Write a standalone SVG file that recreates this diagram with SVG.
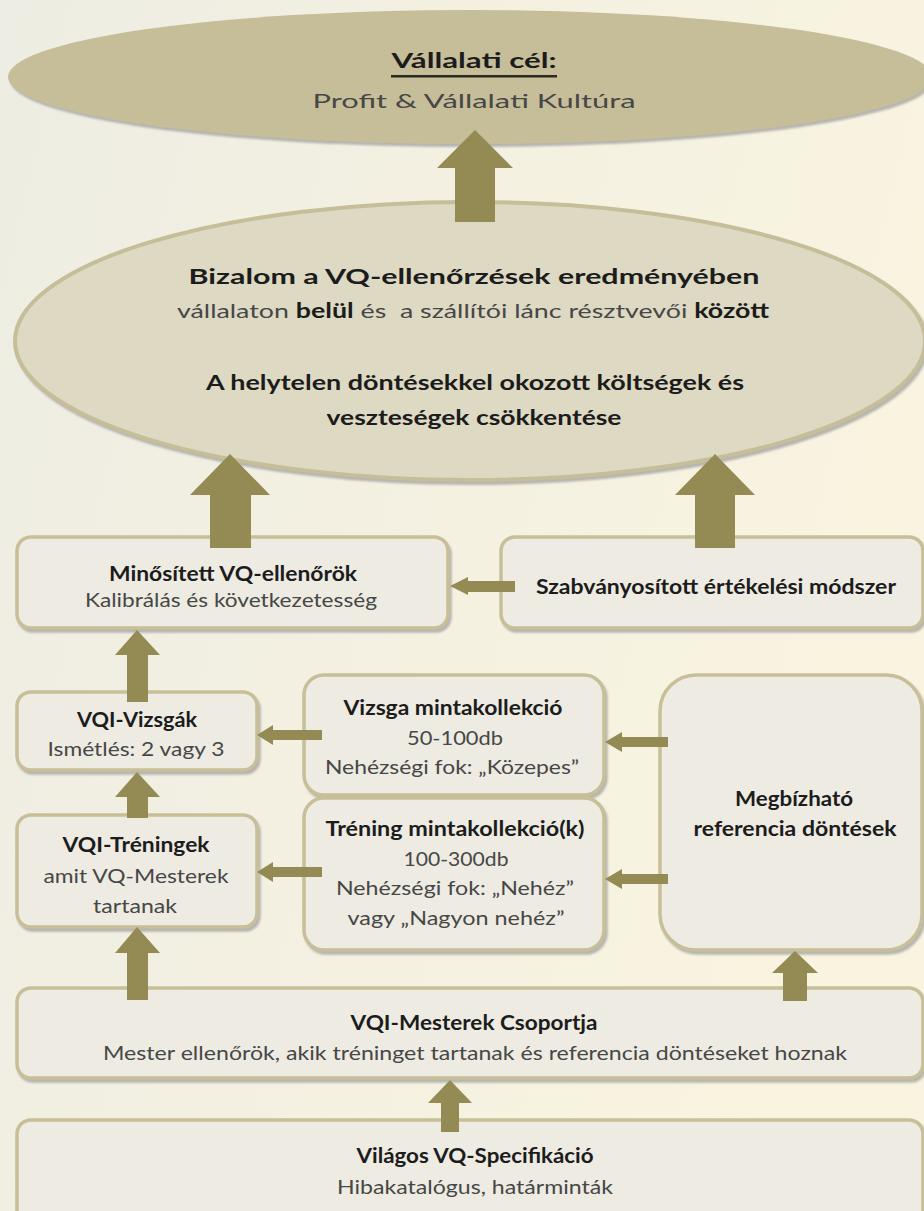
<svg xmlns="http://www.w3.org/2000/svg" width="924" height="1211" viewBox="0 0 924 1211">
<defs>
<linearGradient id="bg" x1="0" y1="0" x2="1" y2="0.3">
<stop offset="0" stop-color="#eeede3"/>
<stop offset="1" stop-color="#f9f4e0"/>
</linearGradient>
<filter id="sh" x="-5%" y="-5%" width="110%" height="115%">
<feDropShadow dx="2" dy="3" stdDeviation="1" flood-color="#9a9a9a" flood-opacity="0.7"/>
</filter>
<style>
.box{fill:#edebe2;stroke:#c8bf98;stroke-width:3.5;filter:url(#sh)}
.arr{fill:#948b54}
text{font-family:Lato,"Open Sans","Liberation Sans",sans-serif;text-anchor:middle}
.h{font-weight:bold;fill:#1c1c1c;font-size:21px}
.s{fill:#474747;font-size:20px}
.b{font-weight:bold;fill:#1c1c1c}
</style>
</defs>
<rect width="924" height="1211" fill="url(#bg)"/>

<g id="goal">
<ellipse cx="470" cy="77" rx="462" ry="67" fill="#c6bd99" filter="url(#sh)"/>
<text class="h" x="474" y="68" font-size="27" textLength="165" lengthAdjust="spacingAndGlyphs">Vállalati cél:</text>
<rect x="391" y="75" width="166" height="2.5" fill="#2a2a20"/>
<text class="s" x="474" y="108" font-size="26" textLength="323" lengthAdjust="spacingAndGlyphs">Profit &amp; Vállalati Kultúra</text>
</g>

<g id="trust">
<ellipse cx="470" cy="341" rx="455" ry="139" fill="#ddd9c3" stroke="#c6bd99" stroke-width="4" filter="url(#sh)"/>
<text class="h" x="474" y="284" font-size="25" textLength="571" lengthAdjust="spacingAndGlyphs">Bizalom a VQ-ellenőrzések eredményében</text>
<text class="s" x="473" y="318" font-size="22" fill="#333" textLength="592" lengthAdjust="spacingAndGlyphs" xml:space="preserve">vállalaton <tspan class="b">belül</tspan> és  a szállítói lánc résztvevői <tspan class="b">között</tspan></text>
<text class="h" x="475" y="390" font-size="22" textLength="538" lengthAdjust="spacingAndGlyphs">A helytelen döntésekkel okozott költségek és</text>
<text class="h" x="474" y="425" font-size="22" textLength="295" lengthAdjust="spacingAndGlyphs">veszteségek csökkentése</text>
</g>

<g id="qualified">
<rect class="box" x="17" y="537" width="431" height="91" rx="14"/>
<text class="h" x="233" y="581" textLength="248" lengthAdjust="spacingAndGlyphs">Minősített VQ-ellenőrök</text>
<text class="s" x="231" y="607" textLength="292" lengthAdjust="spacingAndGlyphs">Kalibrálás és következetesség</text>
</g>

<g id="method">
<rect class="box" x="501" y="537" width="422" height="91" rx="14"/>
<text class="h" x="716" y="594" font-size="20" textLength="360" lengthAdjust="spacingAndGlyphs">Szabványosított értékelési módszer</text>
</g>

<g id="exams">
<rect class="box" x="17" y="692" width="240" height="78" rx="14"/>
<text class="h" x="137" y="727" textLength="120" lengthAdjust="spacingAndGlyphs">VQI-Vizsgák</text>
<text class="s" x="136" y="756" textLength="177" lengthAdjust="spacingAndGlyphs">Ismétlés: 2 vagy 3</text>
</g>

<g id="trainings">
<rect class="box" x="17" y="815" width="240" height="112" rx="14"/>
<text class="h" x="136" y="852" textLength="147" lengthAdjust="spacingAndGlyphs">VQI-Tréningek</text>
<text class="s" x="136" y="883" textLength="185" lengthAdjust="spacingAndGlyphs">amit VQ-Mesterek</text>
<text class="s" x="135" y="913" textLength="84" lengthAdjust="spacingAndGlyphs">tartanak</text>
</g>

<g id="exam-samples">
<rect class="box" x="304" y="675" width="300" height="120" rx="20"/>
<text class="h" x="453" y="715" textLength="219" lengthAdjust="spacingAndGlyphs">Vizsga mintakollekció</text>
<text class="s" x="455" y="745" textLength="96" lengthAdjust="spacingAndGlyphs">50-100db</text>
<text class="s" x="452" y="774" textLength="254" lengthAdjust="spacingAndGlyphs">Nehézségi fok: „Közepes”</text>
</g>

<g id="training-samples">
<rect class="box" x="304" y="798" width="300" height="152" rx="20"/>
<text class="h" x="455" y="836" textLength="259" lengthAdjust="spacingAndGlyphs">Tréning mintakollekció(k)</text>
<text class="s" x="456" y="866" textLength="105" lengthAdjust="spacingAndGlyphs">100-300db</text>
<text class="s" x="455" y="895" textLength="238" lengthAdjust="spacingAndGlyphs">Nehézségi fok: „Nehéz”</text>
<text class="s" x="456" y="925" textLength="217" lengthAdjust="spacingAndGlyphs">vagy „Nagyon nehéz”</text>
</g>

<g id="reference">
<rect class="box" x="660" y="675" width="262" height="275" rx="36"/>
<text class="h" x="794" y="806" textLength="118" lengthAdjust="spacingAndGlyphs">Megbízható</text>
<text class="h" x="795" y="836" textLength="203" lengthAdjust="spacingAndGlyphs">referencia döntések</text>
</g>

<g id="masters">
<rect class="box" x="17" y="988" width="906" height="90" rx="14"/>
<text class="h" x="474" y="1030" textLength="247" lengthAdjust="spacingAndGlyphs">VQI-Mesterek Csoportja</text>
<text class="s" x="475" y="1060" textLength="744" lengthAdjust="spacingAndGlyphs">Mester ellenőrök, akik tréninget tartanak és referencia döntéseket hoznak</text>
</g>

<g id="spec">
<rect class="box" x="17" y="1120" width="906" height="110" rx="14"/>
<text class="h" x="475" y="1163" textLength="237" lengthAdjust="spacingAndGlyphs">Világos VQ-Specifikáció</text>
<text class="s" x="475" y="1194" textLength="276" lengthAdjust="spacingAndGlyphs">Hibakatalógus, határminták</text>
</g>

<g id="connectors" class="arr">
<polygon points="475,130 513,168 495,168 495,222 455,222 455,168 437,168"/>
<polygon points="230,454 270,495 251,495 251,548 210,548 210,495 190,495"/>
<polygon points="715,454 755,495 735,495 735,548 695,548 695,495 675,495"/>
<polygon points="137,630 160,655 148,655 148,702 127,702 127,655 115,655"/>
<polygon points="137,772 160,797 148,797 148,818 127,818 127,797 115,797"/>
<polygon points="137,927 160,953 148,953 148,1000 127,1000 127,953 115,953"/>
<polygon points="795,951 818,973 807,973 807,1001 783,1001 783,973 772,973"/>
<polygon points="450,1080 472,1103 459,1103 459,1132 441,1132 441,1103 428,1103"/>
<polygon points="450,586 468,577 468,581 515,581 515,592 468,592 468,595"/>
<polygon points="257,735 273,725 273,730 322,730 322,740 273,740 273,745"/>
<polygon points="257,872 273,862 273,867 322,867 322,877 273,877 273,882"/>
<polygon points="605,742 622,732 622,737 668,737 668,747 622,747 622,752"/>
<polygon points="605,879 622,869 622,874 668,874 668,884 622,884 622,889"/>
</g>
</svg>
